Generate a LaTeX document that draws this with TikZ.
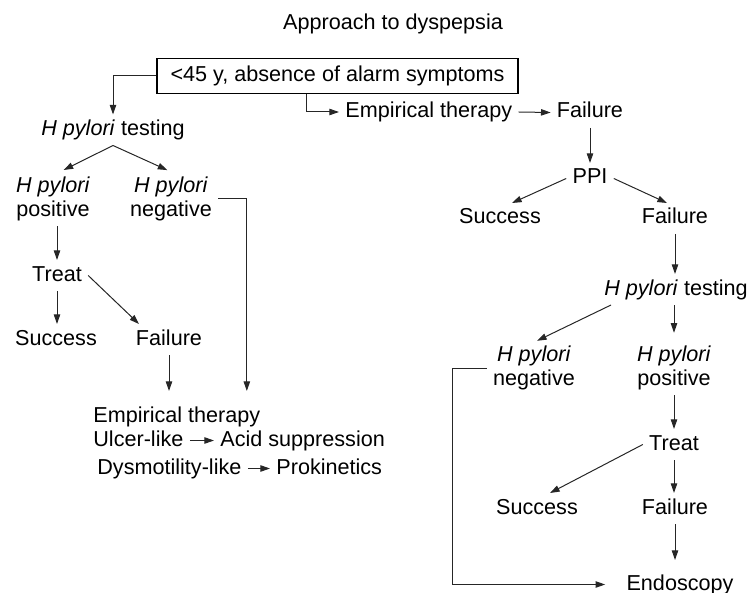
\documentclass[tikz,border=0pt]{standalone}
\usepackage{fontspec}
\setmainfont{Liberation Sans}
\usetikzlibrary{arrows.meta}

\begin{document}
\begin{tikzpicture}[x=0.5pt, y=-0.5pt,
    txt/.style={inner xsep=3pt, inner ysep=2.5pt, font=\fontsize{10.8}{11.75}\selectfont},
    lbl/.style={txt, text height=7.8pt, text depth=2.3pt},
    pair/.style={txt, align=center},
    arr/.style={-{Triangle[length=4.8pt,width=3.2pt]}, line width=0.5pt, draw=black!85}]
        \useasboundingbox (0,0) rectangle (749,593);
        \node[lbl] (title) at (393,24) {Approach to dyspepsia};
        \node[lbl, draw, line width=0.6pt, minimum width=180.5pt, minimum height=17.5pt] (start) at (337.5,76) {<45 y, absence of alarm symptoms};

        \node[lbl] (ltest) at (113,130) {\textit{H pylori} testing};
        \node[pair] (lpos) at (53,199) {\textit{H pylori}\\positive};
        \node[pair] (lneg) at (171,199) {\textit{H pylori}\\negative};
        \node[lbl] (ltreat) at (57,275.5) {Treat};
        \node[lbl] (lsucc) at (56,339.5) {Success};
        \node[lbl] (lfail) at (169,339.5) {Failure};
        \node[lbl, anchor=west] (lemp) at (87,416.5) {Empirical therapy};
        \node[lbl, anchor=west] (ulcer) at (87,440.5) {Ulcer-like};
        \node[lbl, anchor=west] (acid) at (214,440.5) {Acid suppression};
        \node[lbl, anchor=west] (dysmot) at (91,468.5) {Dysmotility-like};
        \node[lbl, anchor=west] (prokin) at (270,468.5) {Prokinetics};

        \node[lbl, anchor=west] (remp) at (339,112) {Empirical therapy};
        \node[lbl] (rfail1) at (590,112.5) {Failure};
        \node[lbl] (ppi) at (590,178.5) {PPI};
        \node[lbl] (rsucc1) at (500,218.5) {Success};
        \node[lbl] (rfail2) at (675,218.5) {Failure};
        \node[lbl] (rtest) at (676,289.5) {\textit{H pylori} testing};
        \node[pair] (rneg) at (534,368) {\textit{H pylori}\\negative};
        \node[pair] (rpos) at (674,368) {\textit{H pylori}\\positive};
        \node[lbl] (rtreat) at (674,444.5) {Treat};
        \node[lbl] (rsucc2) at (537,508.5) {Success};
        \node[lbl] (rfail3) at (675,508.5) {Failure};
        \node[lbl] (endo) at (680,584.5) {Endoscopy};

        \draw[arr] (start.west) -| (ltest.north);
        \draw[arr] ([xshift=-15.75pt]start.south) |- (remp.west);
        \draw[arr] (remp.east) -- (rfail1.west);
        \draw[arr] (rfail1.south) -- (rfail1.south |- ppi.north);
        \draw[arr] (ppi.west) -- ([xshift=6pt]rsucc1.north);
        \draw[arr] (ppi.east) -- ([xshift=-4pt]rfail2.north);
        \draw[arr] (rfail2.south) -- (rfail2.south |- rtest.north);
        \draw[arr] ([xshift=-32.5pt]rtest.south) -- ([xshift=1.5pt]rneg.north);
        \draw[arr, shorten >=4pt] (rpos.north |- rtest.south) -- (rpos.north);
        \draw[arr, shorten >=7.5pt] (rneg.west) -- ++(-34,0) |- (endo.west);
        \draw[arr] (rpos.south) -- (rpos.south |- rtreat.north);
        \draw[arr] (rtreat.west) -- ([xshift=6.5pt]rsucc2.north);
        \draw[arr] (rtreat.south) -- (rtreat.south |- rfail3.north);
        \draw[arr, shorten >=4.5pt] (rfail3.south) -- (rfail3.south |- endo.north);

        \draw[arr, shorten >=2pt] (ltest.south) -- ([xshift=3.5pt]lpos.north);
        \draw[arr, shorten >=2pt] (ltest.south) -- (lneg.north);
        \draw[arr, shorten >=5pt] (lneg.east) -| ([xshift=35pt]lemp.north);
        \draw[arr] (ltreat.north |- lpos.south) -- (ltreat.north);
        \draw[arr] (ltreat.south) -- (ltreat.south |- lsucc.north);
        \draw[arr] (ltreat.east) -- ([xshift=-15pt]lfail.north);
        \draw[arr, shorten >=5pt] (lfail.south) -- (lfail.south |- lemp.north);
        \draw[arr] (ulcer.east) -- (acid.west);
        \draw[arr] (dysmot.east) -- (prokin.west);
\end{tikzpicture}
\end{document}
